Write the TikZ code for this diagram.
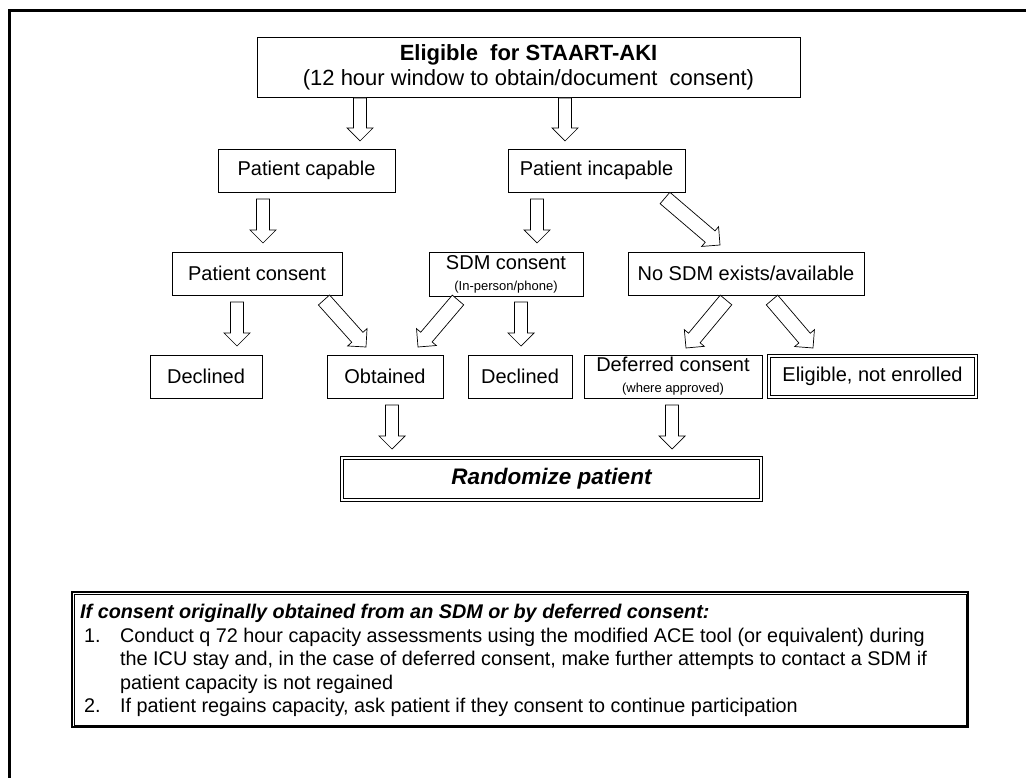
\documentclass[tikz,border=0pt]{standalone}
\usepackage{fontspec}
\setmainfont{Liberation Sans}
\usetikzlibrary{calc}
\newcommand{\mainsz}{\fontsize{20}{24}\selectfont}
\newcommand{\smallsz}{\fontsize{13}{15}\selectfont}
\newcommand{\notesz}{\fontsize{19.8}{23.6}\selectfont}
\tikzset{
  box/.style={draw, line width=0.8pt, inner sep=0pt, align=center, font=\mainsz},
  dbox/.style={box, double, double distance=1.6pt, line width=0.9pt},
  blockarrow/.style={draw, line width=0.7pt, fill=white, line join=miter},
  notetext/.style={anchor=base west, inner sep=0pt, font=\notesz},
}
\newcommand{\blockarr}[3][6.5]{%
  \coordinate (ba-c) at ($(#3)!13pt!(#2)$);
  \draw[blockarrow] ($(#2)!#1pt!90:(#3)$) -- ($(ba-c)!#1pt!90:(#3)$) --
    ($(ba-c)!13pt!90:(#3)$) -- (#3) -- ($(ba-c)!13pt!-90:(#3)$) --
    ($(ba-c)!#1pt!-90:(#3)$) -- ($(#2)!#1pt!-90:(#3)$) -- cycle;
}
\begin{document}
\begin{tikzpicture}[x=1pt,y=-1pt]
\useasboundingbox (0,0) rectangle (1026,778);
\fill[white] (0,0) rectangle (1026,778);
\draw[line width=3pt] (9,778) -- (9,10.5) -- (1026,10.5);

% nodes
\node[box, minimum width=543, minimum height=60, font=\fontsize{22}{25.5}\selectfont] (top) at (528.5,67.5)
  {{\bfseries Eligible\ \ for STAART-AKI}\\(12 hour window to obtain/document\ \ consent)};
\node[box, minimum width=177, minimum height=43] (cap) at (306.5,170.5) {Patient capable};
\node[box, minimum width=177, minimum height=43] (incap) at (596.5,170.5) {Patient incapable};
\node[box, minimum width=170, minimum height=43] (pcons) at (257,273.5) {Patient consent};
\node[box, minimum width=154, minimum height=44] (sdm) at (506,274) {SDM consent\\[-3pt]{\smallsz (In-person/phone)}};
\node[box, minimum width=236, minimum height=43] (nosdm) at (746,273.5) {No SDM exists/available};
\node[box, minimum width=112, minimum height=43] (decl1) at (206,376.5) {Declined};
\node[box, minimum width=116, minimum height=43] (obt) at (385,376.5) {Obtained};
\node[box, minimum width=104, minimum height=43] (decl2) at (520,376.5) {Declined};
\node[box, minimum width=178, minimum height=43] (def) at (673,376.5) {Deferred consent\\[-3pt]{\smallsz (where approved)}};
\node[dbox, minimum width=207, minimum height=41] (elig) at (872.5,376.5) {Eligible, not enrolled};
\node[dbox, minimum width=419, minimum height=42, font=\fontsize{22.5}{26}\selectfont\bfseries\itshape] (rand) at (551.5,479) {Randomize patient};

% note box
\node[draw, line width=2.2pt, minimum width=896, minimum height=135, inner sep=0pt] (note) at (520,659.5) {};
\draw[line width=0.7pt] ([shift={(3,3)}]note.north west) rectangle ([shift={(-3,-3)}]note.south east);
\node[notetext] (nh) at (80,618)
  {\bfseries\itshape If consent originally obtained from an SDM or by deferred consent:};
\node[notetext] (n1a) at (84,642) {1.};
\node[notetext] (n1b) at (120,642) {Conduct q 72 hour capacity assessments using the modified ACE tool (or equivalent) during};
\node[notetext] (n1c) at (120,665.5) {the ICU stay and, in the case of deferred consent, make further attempts to contact a SDM if};
\node[notetext] (n1d) at (120,689) {patient capacity is not regained};
\node[notetext] (n2a) at (84,712.5) {2.};
\node[notetext] (n2b) at (120,712.5) {If patient regains capacity, ask patient if they consent to continue participation};

% arrow end coordinates
\coordinate (a1s) at (360,98);  \coordinate (a1e) at (360,141);
\coordinate (a2s) at (565,98);  \coordinate (a2e) at (565,141);
\coordinate (a3s) at (263,199); \coordinate (a3e) at (263,243);
\coordinate (a4s) at (537,199); \coordinate (a4e) at (537,243);
\coordinate (a5s) at (665,198); \coordinate (a5e) at (720,245);
\coordinate (a6s) at (237,302); \coordinate (a6e) at (237,346);
\coordinate (a7s) at (324,300); \coordinate (a7e) at (366,347);
\coordinate (a8s) at (458,300); \coordinate (a8e) at (418,347);
\coordinate (a9s) at (521,302); \coordinate (a9e) at (521,346);
\coordinate (a10s) at (726,300); \coordinate (a10e) at (686,348);
\coordinate (a11s) at (772,300); \coordinate (a11e) at (813,348);
\coordinate (a12s) at (392,405); \coordinate (a12e) at (392,449);
\coordinate (a13s) at (672,405); \coordinate (a13e) at (672,449);

\blockarr{a1s}{a1e}
\blockarr{a2s}{a2e}
\blockarr{a3s}{a3e}
\blockarr{a4s}{a4e}
\blockarr[7.5]{a5s}{a5e}
\blockarr{a6s}{a6e}
\blockarr[7.5]{a7s}{a7e}
\blockarr[7.5]{a8s}{a8e}
\blockarr{a9s}{a9e}
\blockarr[7.5]{a10s}{a10e}
\blockarr[7.5]{a11s}{a11e}
\blockarr{a12s}{a12e}
\blockarr{a13s}{a13e}
\end{tikzpicture}
\end{document}
